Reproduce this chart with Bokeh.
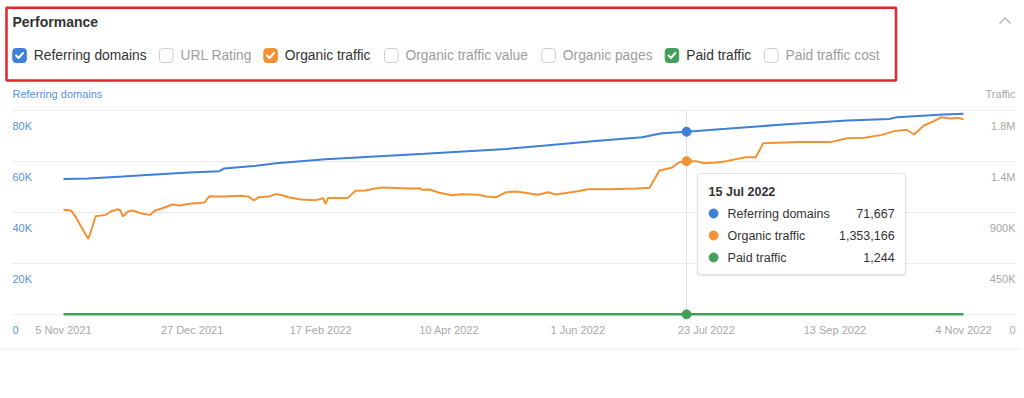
import numpy as np
import pandas as pd
from bokeh.plotting import figure
from bokeh.models import Range1d
from bokeh.layouts import column
from bokeh.embed import file_html
from bokeh.resources import INLINE
from bokeh.core.properties import value

FONT = "Liberation Sans"

# ---------------- data ----------------
TITLE = "Performance"
OPTIONS = ["Referring domains", "URL Rating", "Organic traffic", "Organic traffic value",
           "Organic pages", "Paid traffic", "Paid traffic cost"]
OPTIONS_CHECKED = [True, False, True, False, False, True, False]
LEFT_AXIS_TITLE = "Referring domains"
RIGHT_AXIS_TITLE = "Traffic"

rd_dates = ["2021-11-05", "2021-11-15", "2021-11-29", "2021-12-12", "2021-12-26", "2022-01-07",
            "2022-01-09", "2022-01-22", "2022-01-30", "2022-02-19", "2022-03-11", "2022-03-31",
            "2022-04-21", "2022-05-03", "2022-05-19", "2022-06-08", "2022-06-27", "2022-07-05",
            "2022-07-15", "2022-07-31", "2022-08-23", "2022-09-18", "2022-10-05", "2022-10-08",
            "2022-10-27", "2022-11-04"]
rd_values = [53100, 53300, 54100, 54900, 55700, 56200, 57300, 58300, 59300, 60900, 62000, 63000,
             64200, 64900, 66300, 68000, 69500, 71100, 71667, 72800, 74500, 76100, 76700, 77400,
             78400, 78700]

ot_dates = ["2021-11-05", "2021-11-08", "2021-11-10", "2021-11-13", "2021-11-15", "2021-11-16",
            "2021-11-18", "2021-11-22", "2021-11-24", "2021-11-27", "2021-11-28", "2021-11-29",
            "2021-12-01", "2021-12-03", "2021-12-07", "2021-12-10", "2021-12-12", "2021-12-15",
            "2021-12-19", "2021-12-22", "2021-12-26", "2021-12-31", "2022-01-01", "2022-01-03",
            "2022-01-08", "2022-01-16", "2022-01-19", "2022-01-21", "2022-01-23", "2022-01-27",
            "2022-01-30", "2022-02-02", "2022-02-04", "2022-02-09", "2022-02-15", "2022-02-18",
            "2022-02-19", "2022-02-20", "2022-02-28", "2022-03-03", "2022-03-07", "2022-03-11",
            "2022-03-14", "2022-03-25", "2022-03-29", "2022-03-30", "2022-04-02", "2022-04-06",
            "2022-04-11", "2022-04-15", "2022-04-22", "2022-04-25", "2022-04-29", "2022-05-03",
            "2022-05-07", "2022-05-16", "2022-05-20", "2022-05-23", "2022-06-01", "2022-06-05",
            "2022-06-14", "2022-06-25", "2022-06-30", "2022-07-04", "2022-07-09", "2022-07-12",
            "2022-07-15", "2022-07-19", "2022-07-22", "2022-07-27", "2022-07-31", "2022-08-04",
            "2022-08-08", "2022-08-12", "2022-08-15", "2022-08-29", "2022-09-11", "2022-09-18",
            "2022-09-25", "2022-10-02", "2022-10-07", "2022-10-12", "2022-10-15", "2022-10-19",
            "2022-10-23", "2022-10-26", "2022-10-30", "2022-11-02", "2022-11-04"]
ot_values = [924000, 918000, 859000, 741000, 668000, 726000, 867000, 879000, 909000, 929000,
             918000, 865000, 909000, 918000, 888000, 879000, 918000, 938000, 971000, 962000,
             977000, 985000, 988000, 1044000, 1041000, 1047000, 1038000, 1006000, 1035000,
             1041000, 1062000, 1050000, 1035000, 1015000, 1009000, 1026000, 977000, 1029000,
             1029000, 1091000, 1094000, 1112000, 1121000, 1112000, 1115000, 1100000, 1103000,
             1074000, 1053000, 1062000, 1056000, 1041000, 1035000, 1079000, 1085000, 1056000,
             1079000, 1059000, 1088000, 1106000, 1106000, 1112000, 1118000, 1271000, 1294000,
             1344000, 1353166, 1353000, 1335000, 1341000, 1353000, 1371000, 1388000, 1388000,
             1512000, 1521000, 1521000, 1556000, 1559000, 1585000, 1618000, 1630000, 1588000,
             1668000, 1706000, 1741000, 1729000, 1735000, 1723000]

pt_dates = ["2021-11-05", "2022-01-15", "2022-04-01", "2022-07-15", "2022-09-15", "2022-11-04"]
pt_values = [1190, 1215, 1230, 1244, 1252, 1260]

X_TICKS = ["2021-11-05", "2021-12-27", "2022-02-17", "2022-04-10", "2022-06-01", "2022-07-23",
           "2022-09-13", "2022-11-04"]
X_TICK_LABELS = ["5 Nov 2021", "27 Dec 2021", "17 Feb 2022", "10 Apr 2022", "1 Jun 2022",
                 "23 Jul 2022", "13 Sep 2022", "4 Nov 2022"]
LEFT_TICKS = [0, 20000, 40000, 60000, 80000]
LEFT_TICK_LABELS = ["0", "20K", "40K", "60K", "80K"]
RIGHT_TICKS = [0, 450000, 900000, 1350000, 1800000]
RIGHT_TICK_LABELS = ["0", "450K", "900K", "1.4M", "1.8M"]

HOVER_DATE = "2022-07-15"
HOVER_LABEL = "15 Jul 2022"
HOVER_SERIES = ["Referring domains", "Organic traffic", "Paid traffic"]
HOVER_VALUES = [71667, 1353166, 1244]

# ---------------- style ----------------
BLUE = "#3e80d8"
ORANGE = "#f29234"
GREEN = "#43a05a"
SERIES_COLORS = [BLUE, ORANGE, GREEN]
OPTION_COLORS = [BLUE, None, ORANGE, None, None, GREEN, None]
RED = "#e5252b"
DARK = "#333333"
GRAY_TXT = "#9d9d9d"
AXIS_TXT = "#a8a8a8"
LEFT_TXT = "#5b92d9"
GRID = "#ececec"

W = 1020


def base_fig(height, **kw):
    f = figure(width=W, height=height, x_axis_type=None, y_axis_type=None,
               toolbar_location=None, output_backend="svg",
               min_border_left=0, min_border_right=0, min_border_top=0, min_border_bottom=0, **kw)
    f.outline_line_color = None
    f.background_fill_color = "white"
    f.border_fill_color = "white"
    return f


# ---------------- header figure (page px coords) ----------------
A_TOP, A_BOT = 0, 100
hdr = base_fig(A_BOT - A_TOP, x_range=Range1d(0, W), y_range=Range1d(A_BOT, A_TOP))

hdr.quad(left=6, right=895.5, top=7.3, bottom=80, fill_color=None, line_color=RED, line_width=2.5)
hdr.text(x=[12], y=[21], text=[TITLE], text_font=value(FONT), text_font_size="14px",
         text_font_style="bold", text_color=DARK, text_baseline="middle", text_align="left")

OPT_LABEL_X = [33.3, 180, 284.3, 405, 562.3, 685.7, 785]
ROW_Y = 55
for lx, name, chk, col in zip(OPT_LABEL_X, OPTIONS, OPTIONS_CHECKED, OPTION_COLORS):
    bl = lx - 21
    kw = dict(left=bl, right=bl + 13.5, top=ROW_Y - 7, bottom=ROW_Y + 7)
    if chk:
        style = dict(fill_color=col, line_color=col, line_width=1)
    else:
        style = dict(fill_color="white", line_color="#cfcfcf", line_width=1)
    try:
        hdr.quad(**kw, **style, border_radius=3)
    except Exception:
        hdr.quad(**kw, **style)
    if chk:
        cx = bl + 6.75
        hdr.line(x=[cx - 3.5, cx - 1, cx + 3.5], y=[ROW_Y, ROW_Y + 2.5, ROW_Y - 2.5],
                 line_color="white", line_width=2, line_cap="round", line_join="round")
    hdr.text(x=[lx], y=[ROW_Y], text=[name], text_font=value(FONT), text_font_size="13.8px",
             text_color=DARK if chk else GRAY_TXT, text_baseline="middle", text_align="left")

hdr.line(x=[999, 1004.5, 1010], y=[23, 17.5, 23], line_color="#b8b8b8", line_width=1.5)
hdr.text(x=[12], y=[93.5], text=[LEFT_AXIS_TITLE], text_font=value(FONT), text_font_size="11px",
         text_color=LEFT_TXT, text_baseline="middle", text_align="left")
hdr.text(x=[1015], y=[93.5], text=[RIGHT_AXIS_TITLE], text_font=value(FONT), text_font_size="11px",
         text_color=AXIS_TXT, text_baseline="middle", text_align="right")

# ---------------- chart figure ----------------
B_TOP, B_BOT = 100, 342
GRID_L, GRID_R = 12, 1015       # page x extent of grid lines / tick labels
X0_PX, X1_PX = 63, 963          # page x of first/last date
ZERO_PY, TOP_PY = 314, 110      # page y of 0 and top tick

rd_x = pd.to_datetime(rd_dates)
ot_x = pd.to_datetime(ot_dates)
pt_x = pd.to_datetime(pt_dates)
t0 = rd_x.min().value / 1e6
t1 = rd_x.max().value / 1e6
ms_per_px = (t1 - t0) / (X1_PX - X0_PX)


def xpx(px):
    """page px -> x data (ms)"""
    return t0 + (px - X0_PX) * ms_per_px


ul = LEFT_TICKS[-1] / (ZERO_PY - TOP_PY)
ur = RIGHT_TICKS[-1] / (ZERO_PY - TOP_PY)

p = base_fig(B_BOT - B_TOP, x_range=Range1d(xpx(0), xpx(W)),
             y_range=Range1d(-(B_BOT - ZERO_PY) * ul, LEFT_TICKS[-1] + (TOP_PY - B_TOP) * ul))
p.extra_y_ranges = {"traffic": Range1d(-(B_BOT - ZERO_PY) * ur, RIGHT_TICKS[-1] + (TOP_PY - B_TOP) * ur)}

gl, gr = xpx(GRID_L), xpx(GRID_R)
p.segment(x0=[gl] * len(LEFT_TICKS), x1=[gr] * len(LEFT_TICKS), y0=LEFT_TICKS, y1=LEFT_TICKS,
          line_color=GRID, line_width=1)

hx = pd.Timestamp(HOVER_DATE)
hx_ms = hx.value / 1e6
p.segment(x0=[hx], y0=[LEFT_TICKS[0]], x1=[hx], y1=[LEFT_TICKS[-1]], line_color="#e2e2e2", line_width=1)

p.line(x=pt_x, y=pt_values, line_color=GREEN, line_width=2.5, y_range_name="traffic")
p.line(x=ot_x, y=ot_values, line_color=ORANGE, line_width=2, y_range_name="traffic")
p.line(x=rd_x, y=rd_values, line_color=BLUE, line_width=2)

p.scatter(x=[hx], y=[HOVER_VALUES[0]], size=9, fill_color=BLUE, line_color=BLUE)
p.scatter(x=[hx, hx], y=HOVER_VALUES[1:], size=9, fill_color=[ORANGE, GREEN],
          line_color=[ORANGE, GREEN], y_range_name="traffic")

LBL_OFF = 15.5
p.text(x=[gl] * len(LEFT_TICKS), y=LEFT_TICKS, text=LEFT_TICK_LABELS, text_font=value(FONT),
       text_font_size="11px", text_color=LEFT_TXT, text_align="left", text_baseline="middle",
       y_offset=LBL_OFF)
p.text(x=[gr] * len(RIGHT_TICKS), y=RIGHT_TICKS, text=RIGHT_TICK_LABELS, text_font=value(FONT),
       text_font_size="11px", text_color=AXIS_TXT, text_align="right", text_baseline="middle",
       y_offset=LBL_OFF, y_range_name="traffic")
p.text(x=pd.to_datetime(X_TICKS), y=[0] * len(X_TICKS), text=X_TICK_LABELS, text_font=value(FONT),
       text_font_size="11px", text_color=AXIS_TXT, text_align="center", text_baseline="middle",
       y_offset=LBL_OFF)


# tooltip (pixel layout relative to the hovered date)
def tx(dpx):
    return hx_ms + dpx * ms_per_px


def ty(py):
    return (ZERO_PY - py) * ul


TT_L, TT_R, TT_T, TT_B = 11, 219, 173, 274
try:
    p.quad(left=tx(TT_L - 1), right=tx(TT_R + 1), top=ty(TT_T), bottom=ty(TT_B + 2),
           fill_color="black", fill_alpha=0.07, line_color=None, border_radius=4)
    p.quad(left=tx(TT_L), right=tx(TT_R), top=ty(TT_T), bottom=ty(TT_B),
           fill_color="white", line_color="#e3e3e3", line_width=1, border_radius=3)
except Exception:
    p.quad(left=tx(TT_L - 1), right=tx(TT_R + 1), top=ty(TT_T), bottom=ty(TT_B + 2),
           fill_color="black", fill_alpha=0.07, line_color=None)
    p.quad(left=tx(TT_L), right=tx(TT_R), top=ty(TT_T), bottom=ty(TT_B),
           fill_color="white", line_color="#e3e3e3", line_width=1)

p.text(x=[tx(TT_L + 11)], y=[ty(191)], text=[HOVER_LABEL], text_font=value(FONT),
       text_font_size="12.5px", text_font_style="bold", text_color=DARK,
       text_align="left", text_baseline="middle")
rows_y = [ty(213), ty(235), ty(257)]
p.scatter(x=[tx(TT_L + 16)] * 3, y=rows_y, size=9, fill_color=SERIES_COLORS, line_color=SERIES_COLORS)
p.text(x=[tx(TT_L + 30)] * 3, y=rows_y, text=HOVER_SERIES, text_font=value(FONT),
       text_font_size="12.5px", text_color=DARK, text_align="left", text_baseline="middle")
p.text(x=[tx(TT_L + 197)] * 3, y=rows_y, text=[f"{v:,}" for v in HOVER_VALUES],
       text_font=value(FONT), text_font_size="12.5px", text_color=DARK,
       text_align="right", text_baseline="middle")

# ---------------- footer separator ----------------
C_TOP, C_BOT = 342, 362
ftr = base_fig(C_BOT - C_TOP, x_range=Range1d(0, W), y_range=Range1d(C_BOT, C_TOP))
ftr.line(x=[0, W], y=[348.5, 348.5], line_color="#ebebeb", line_width=1)

layout = column(hdr, p, ftr, spacing=0)
open("out.html", "w").write(file_html(layout, INLINE))
